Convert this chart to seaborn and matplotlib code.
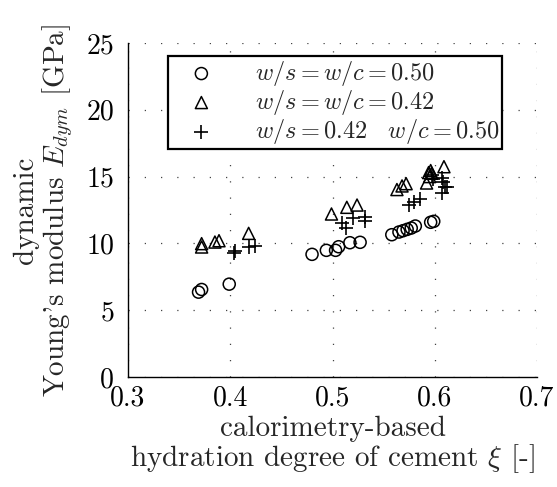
import numpy as np
import pandas as pd
import matplotlib
matplotlib.use("Agg")
import matplotlib.pyplot as plt
import seaborn as sns

# Hydration degree xi [-] and dynamic Young's modulus [GPa] per mix
xi_050 = [0.369, 0.372, 0.399, 0.480, 0.494, 0.503, 0.506, 0.517, 0.527,
          0.558, 0.565, 0.569, 0.573, 0.577, 0.581, 0.596, 0.599]
E_050 = [6.35, 6.55, 6.95, 9.18, 9.48, 9.48, 9.75, 10.05, 10.08,
         10.65, 10.85, 10.95, 11.05, 11.15, 11.30, 11.58, 11.65]

xi_042 = [0.372, 0.372, 0.385, 0.389, 0.418, 0.499, 0.514, 0.524,
          0.563, 0.568, 0.572, 0.592, 0.594, 0.596, 0.597, 0.595, 0.609]
E_042 = [9.73, 9.98, 10.10, 10.20, 10.75, 12.20, 12.70, 12.87,
         14.03, 14.30, 14.47, 14.52, 15.30, 15.45, 15.25, 15.00, 15.74]

xi_mix = [0.404, 0.405, 0.418, 0.424, 0.509, 0.513, 0.520, 0.532, 0.532,
          0.575, 0.580, 0.586, 0.597, 0.598, 0.607, 0.608, 0.610, 0.612, 0.607]
E_mix = [9.26, 9.40, 9.75, 9.80, 11.50, 11.18, 11.88, 12.00, 11.70,
         12.87, 13.08, 13.30, 15.10, 14.80, 14.87, 14.60, 14.20, 14.25, 13.80]

series_labels = [r"$w/s = w/c = 0.50$",
                 r"$w/s = w/c = 0.42$",
                 r"$w/s = 0.42\quad w/c = 0.50$"]

x_ticks = [0.3, 0.4, 0.5, 0.6, 0.7]
y_ticks = [0, 5, 10, 15, 20, 25]

df = pd.concat([
    pd.DataFrame({"xi": xi_050, "E": E_050, "mix": series_labels[0]}),
    pd.DataFrame({"xi": xi_042, "E": E_042, "mix": series_labels[1]}),
    pd.DataFrame({"xi": xi_mix, "E": E_mix, "mix": series_labels[2]}),
])

sns.set_style("white")
plt.rcParams.update({
    "font.family": "serif",
    "font.serif": ["cmr10", "DejaVu Serif"],
    "mathtext.fontset": "cm",
    "axes.formatter.use_mathtext": True,
    "axes.unicode_minus": False,
})

fig = plt.figure(figsize=(5.57, 4.87), dpi=100)
ax = fig.add_axes([0.2298, 0.2259, 0.7343, 0.6858])

marker_map = {series_labels[0]: "o", series_labels[1]: "^", series_labels[2]: "+"}
for lab in series_labels:
    sub = df[df["mix"] == lab]
    m = marker_map[lab]
    if m == "+":
        sns.scatterplot(data=sub, x="xi", y="E", marker="+", color="black",
                        s=90, linewidth=1.2, ax=ax, label=lab, legend=False, zorder=3)
    else:
        sns.scatterplot(data=sub, x="xi", y="E", marker=m, facecolor="none",
                        edgecolor="black", s=75, linewidth=1.1, ax=ax,
                        label=lab, legend=False, zorder=3)

ax.set_xlim(0.3, 0.7)
ax.set_ylim(0, 25)
ax.set_xticks(x_ticks)
ax.set_yticks(y_ticks)
ax.set_xticklabels([f"{v:.1f}" for v in x_ticks])
ax.set_yticklabels([str(v) for v in y_ticks])

# dotted grid, no box on top/right
ax.grid(True, color="#444444", linestyle=(0, (1, 12)), linewidth=0.9)
for side in ["top", "right"]:
    ax.spines[side].set_visible(False)
for side in ["left", "bottom"]:
    ax.spines[side].set_color("black")
    ax.spines[side].set_linewidth(1.0)
ax.tick_params(axis="both", direction="in", length=4, width=0.8,
               labelsize=20, colors="black")
ax.tick_params(axis="y", pad=10)
ax.tick_params(axis="x", pad=6)

ax.set_xlabel("calorimetry-based\n" + r"hydration degree of cement $\xi$ [-]",
              fontsize=21, labelpad=3, linespacing=1.0)
ax.set_ylabel("dynamic\n" + r"Young's modulus $E_{dym}$ [GPa]",
              fontsize=21, labelpad=8, linespacing=1.05)

handles, labels = ax.get_legend_handles_labels()
leg = ax.legend(handles, labels, loc="upper left", bbox_to_anchor=(0.098, 0.961),
                fontsize=17.5, frameon=True, fancybox=False, edgecolor="black",
                borderpad=0.12, handletextpad=0.95, labelspacing=0.0,
                handlelength=2.5, borderaxespad=0)
leg.get_frame().set_linewidth(1.6)
leg.get_frame().set_facecolor("white")
leg.get_frame().set_alpha(1)

fig.savefig("out.png", dpi=100)
